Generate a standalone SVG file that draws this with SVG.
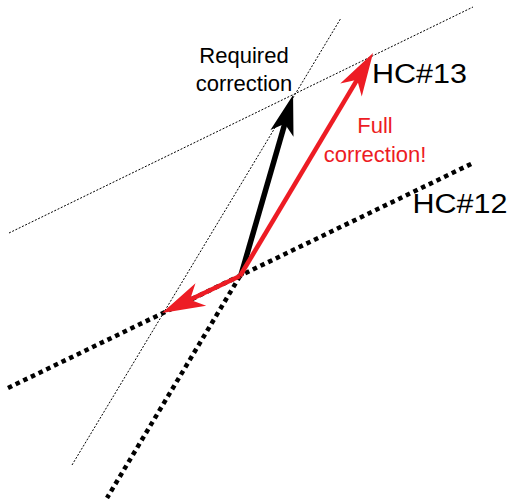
<svg xmlns="http://www.w3.org/2000/svg" width="510" height="499" viewBox="0 0 510 499">
<style>
.thin{stroke:#000;stroke-width:1;stroke-dasharray:2 1.6;fill:none}
.thick{stroke:#000;stroke-width:4.5;stroke-dasharray:4.5 4;fill:none}
.lbl{font-family:"Liberation Sans",Arial,sans-serif;fill:#000;text-anchor:middle}
.red{fill:#ED1C24}
</style>
<defs>
<marker id="hk" markerUnits="userSpaceOnUse" orient="auto" overflow="visible" refX="0" refY="0" markerWidth="1" markerHeight="1">
<path d="M28,0 L-12,-12 L-2,0 L-12,12 z" fill="#000"/>
</marker>
<marker id="hr" markerUnits="userSpaceOnUse" orient="auto" overflow="visible" refX="0" refY="0" markerWidth="1" markerHeight="1">
<path d="M28,0 L-15,-12.5 L-3,0 L-15,12.5 z" fill="#ED1C24"/>
</marker>
</defs>
<rect width="510" height="499" fill="#fff"/>
<g id="connectors">
<line class="thin" x1="9" y1="233" x2="473" y2="7"/>
<line class="thin" x1="72" y1="465" x2="341" y2="18"/>
<line class="thick" x1="8" y1="388" x2="473" y2="163"/>
<line class="thick" x1="240" y1="276" x2="107" y2="498"/>
<line x1="241" y1="275" x2="285.3" y2="121.9" stroke="#000" stroke-width="5.5" marker-end="url(#hk)"/>
<line x1="240" y1="276" x2="358.7" y2="77.1" stroke="#ED1C24" stroke-width="4.5" marker-end="url(#hr)"/>
<line x1="240" y1="276" x2="187.3" y2="301" stroke="#ED1C24" stroke-width="4.5" marker-end="url(#hr)"/>
</g>
<g id="required-label">
<text class="lbl" x="244" y="63" font-size="22">Required</text>
<text class="lbl" x="244" y="91" font-size="22">correction</text>
</g>
<g id="full-label">
<text class="lbl red" x="375" y="133" font-size="22">Full</text>
<text class="lbl red" x="375" y="162" font-size="22">correction!</text>
</g>
<g id="hc13">
<text class="lbl" transform="translate(419.5,83) scale(1.09,1)" font-size="28">HC#13</text>
</g>
<g id="hc12">
<text class="lbl" transform="translate(460,213) scale(1.09,1)" font-size="28">HC#12</text>
</g>
</svg>
